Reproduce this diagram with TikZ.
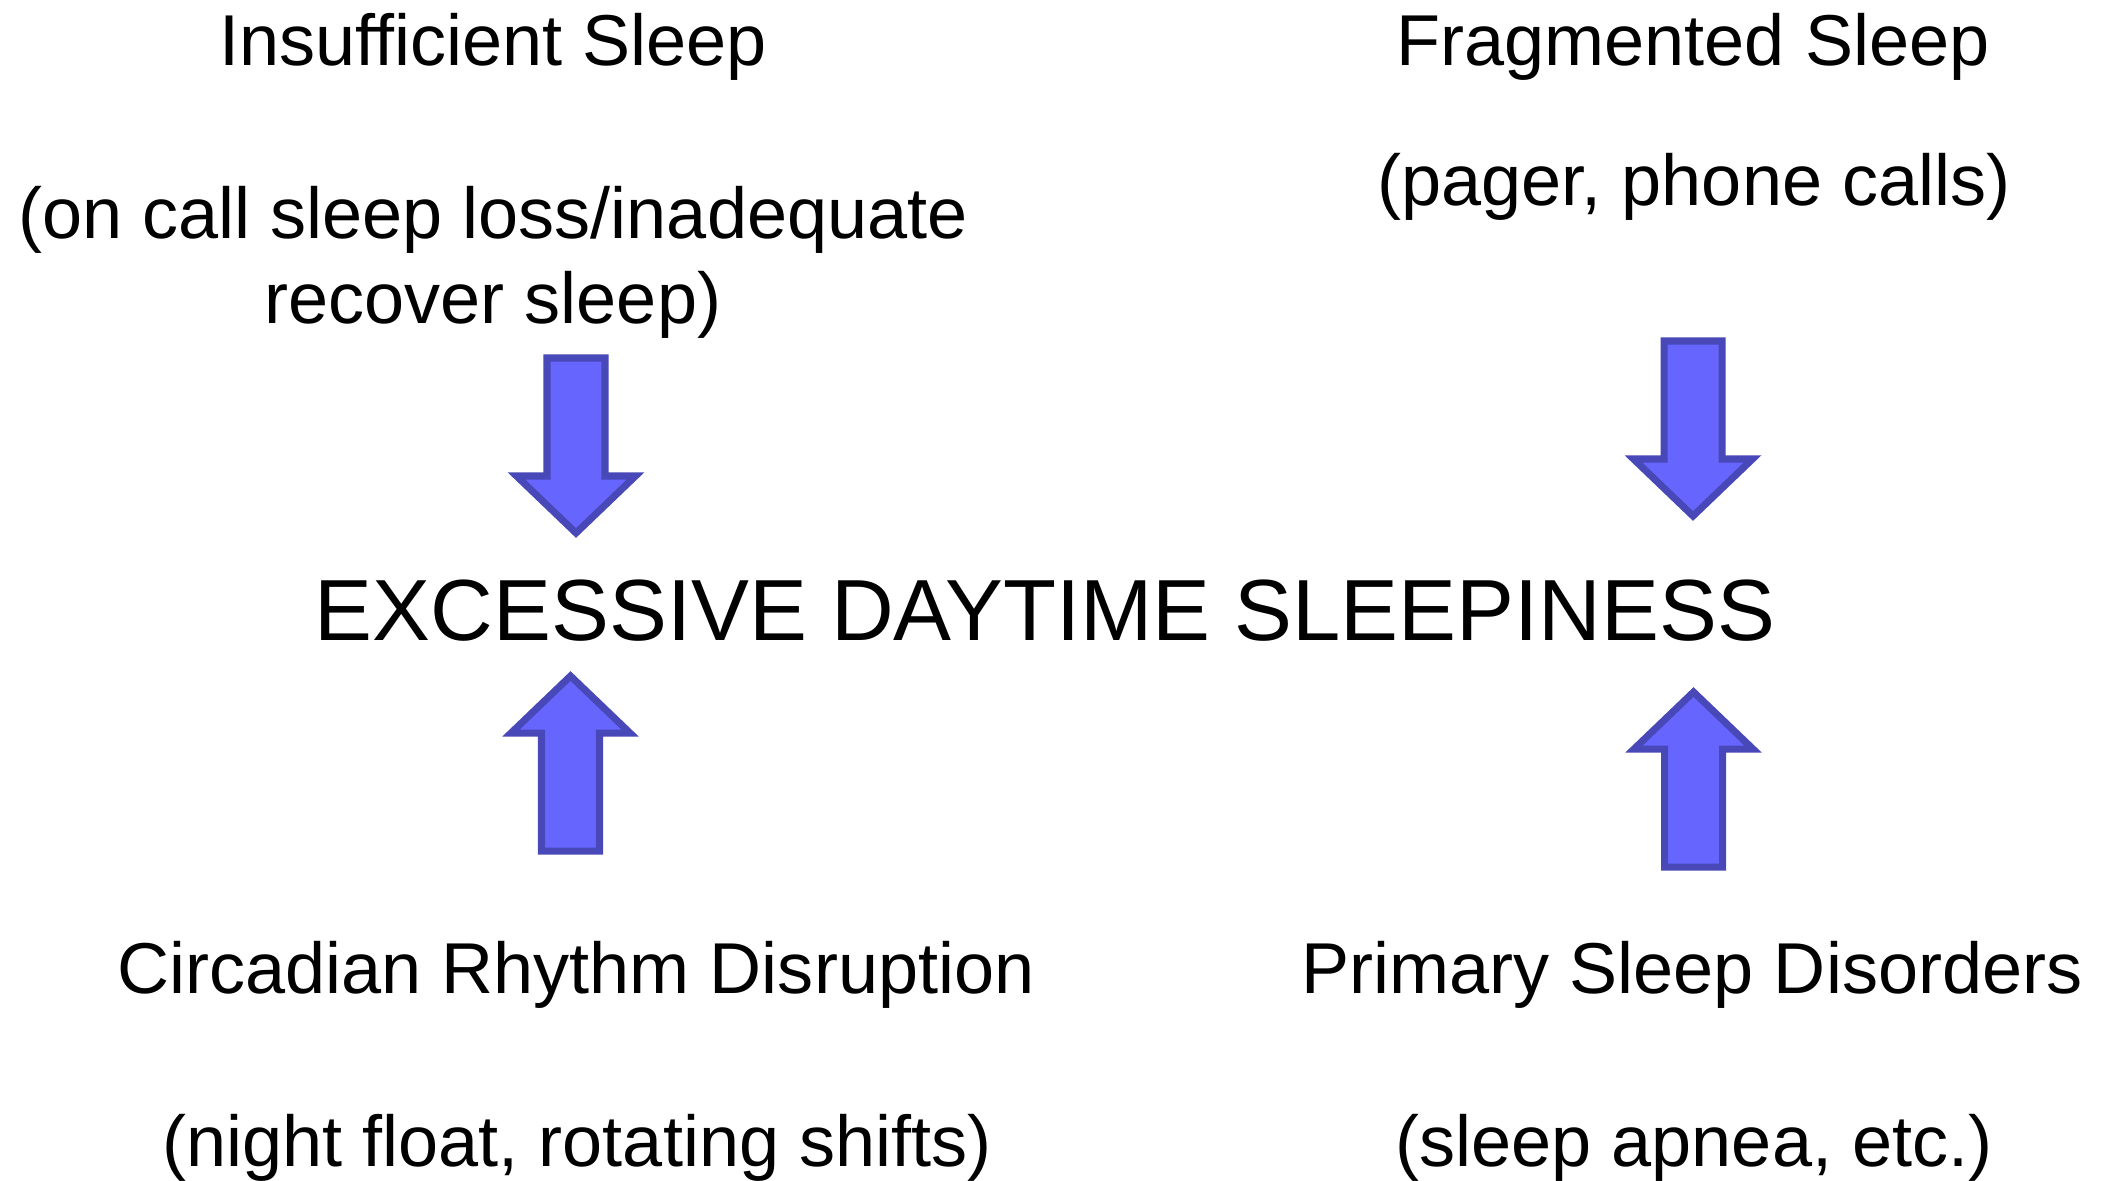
\documentclass[tikz,border=0pt]{standalone}
\usepackage{fontspec}
\setmainfont{Liberation Sans}
\usetikzlibrary{positioning}
\definecolor{arrowfill}{RGB}{102,102,255}
\definecolor{arrowline}{RGB}{72,72,184}

\begin{document}
\begin{tikzpicture}[
  cause/.style={font=\fontsize{20.5}{24.1}\selectfont, anchor=base,
                inner sep=0pt, align=center},
  effect/.style={font=\fontsize{24.7}{29}\selectfont, anchor=base,
                 inner sep=0pt},
  blockarrow/.pic={
    \draw[fill=arrowfill, draw=arrowline, line width=2pt, line join=miter]
      (-0.29,0) -- (0.29,0) -- (0.29,-1.18) -- (0.595,-1.18) -- (0,-1.75)
      -- (-0.595,-1.18) -- (-0.29,-1.18) -- cycle;
  }
]
\useasboundingbox (0,0) rectangle (21.13,-11.80);

% ==================== Causes (top) ====================
\node[cause] (insuff) at (4.93,-0.65) {Insufficient Sleep};
\node[cause] (insuffnote) at (4.93,-3.23)
  {(on call sleep loss/inadequate\\recover sleep)};
\node[cause] (frag) at (16.93,-0.65) {Fragmented Sleep};
\node[cause] (fragnote) at (16.94,-2.05) {(pager, phone calls)};

% ==================== Effect ====================
\node[effect] (eds) at (10.45,-6.40) {EXCESSIVE DAYTIME SLEEPINESS};

% ==================== Causes (bottom) ====================
\node[cause] (circ) at (5.76,-9.93) {Circadian Rhythm Disruption};
\node[cause] (circnote) at (5.77,-11.66) {(night float, rotating shifts)};
\node[cause] (prim) at (16.92,-9.93) {Primary Sleep Disorders};
\node[cause] (primnote) at (16.94,-11.66) {(sleep apnea, etc.)};

% ==================== Block arrows ====================
\pic at (5.76,-3.58) {blockarrow};
\pic at (16.93,-3.41) {blockarrow};
\pic[rotate=180] at (5.705,-8.51) {blockarrow};
\pic[rotate=180] at (16.935,-8.67) {blockarrow};

\end{tikzpicture}
\end{document}
